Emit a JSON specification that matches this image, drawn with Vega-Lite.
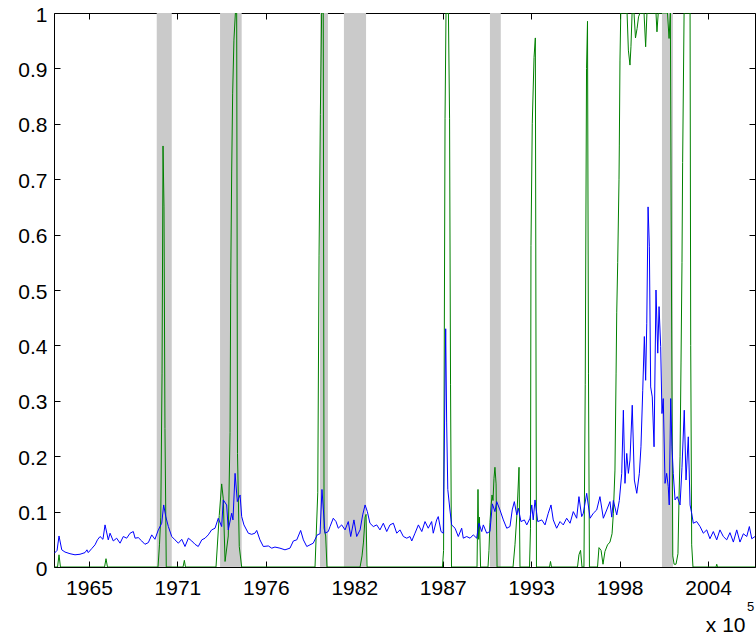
{
"$schema":"https://vega.github.io/schema/vega-lite/v6.json",
"width":701,"height":554,
"autosize":{"type":"none"},
"padding":{"left":54,"top":13,"right":1,"bottom":67},
"background":"white",
"config":{"view":{"stroke":"black","strokeWidth":1},"axis":{"labelFont":"Liberation Sans","titleFont":"Liberation Sans","labelColor":"black","titleColor":"black","domain":false,"tickColor":"black","tickSize":6,"offset":-6,"grid":false,"zindex":1,"labelFontSize":21,"titleFontSize":21,"titleFontWeight":"normal"}},
"datasets":{
"bands":[{"start":1970.01,"end":1970.94},{"start":1973.93,"end":1975.27},{"start":1980.12,"end":1980.61},{"start":1981.60,"end":1982.97},{"start":1990.64,"end":1991.31},{"start":2001.29,"end":2001.97}],
"green":[
{"t":1963.68,"v":0},{"t":1963.87,"v":0},{"t":1963.96,"v":0.022},{"t":1964.05,"v":0},{"t":1966.78,"v":0},{"t":1966.87,"v":0.015},{"t":1966.96,"v":0},
{"t":1970.09,"v":0},{"t":1970.18,"v":0.04},{"t":1970.26,"v":0.09},{"t":1970.34,"v":0.35},{"t":1970.40,"v":0.76},{"t":1970.46,"v":0.65},{"t":1970.52,"v":0.25},{"t":1970.60,"v":0},
{"t":1971.64,"v":0},{"t":1971.72,"v":0.012},{"t":1971.79,"v":0},
{"t":1973.68,"v":0},{"t":1973.88,"v":0.093},{"t":1974.03,"v":0.15},{"t":1974.13,"v":0.123},{"t":1974.24,"v":0.01},{"t":1974.44,"v":0.056},{"t":1974.55,"v":0.243},{"t":1974.59,"v":0.511},{"t":1974.65,"v":0.713},{"t":1974.71,"v":0.854},{"t":1974.79,"v":0.951},{"t":1974.88,"v":1.0},{"t":1974.96,"v":1.0},{"t":1975.01,"v":0.205},{"t":1975.12,"v":0.037},{"t":1975.27,"v":0},
{"t":1979.81,"v":0},{"t":1979.98,"v":0.134},{"t":1980.06,"v":0.563},{"t":1980.14,"v":0.817},{"t":1980.22,"v":1.0},{"t":1980.32,"v":1.0},{"t":1980.37,"v":0.07},{"t":1980.47,"v":0.056},{"t":1980.55,"v":0},
{"t":1982.60,"v":0},{"t":1982.72,"v":0.02},{"t":1982.81,"v":0.045},{"t":1982.91,"v":0.09},{"t":1982.97,"v":0.095},{"t":1983.03,"v":0},
{"t":1987.70,"v":0},{"t":1987.77,"v":0.03},{"t":1987.86,"v":0.81},{"t":1987.92,"v":1.0},{"t":1988.07,"v":1.0},{"t":1988.14,"v":0.81},{"t":1988.20,"v":0.33},{"t":1988.26,"v":0},
{"t":1989.84,"v":0},{"t":1989.90,"v":0.14},{"t":1989.94,"v":0.05},{"t":1989.99,"v":0.09},{"t":1990.06,"v":0},
{"t":1990.52,"v":0},{"t":1990.58,"v":0.03},{"t":1990.64,"v":0.08},{"t":1990.71,"v":0.11},{"t":1990.77,"v":0.13},{"t":1990.83,"v":0.12},{"t":1990.89,"v":0.16},{"t":1990.95,"v":0.18},{"t":1991.02,"v":0.15},{"t":1991.08,"v":0},
{"t":1992.07,"v":0},{"t":1992.19,"v":0.04},{"t":1992.32,"v":0.1},{"t":1992.44,"v":0.18},{"t":1992.50,"v":0},
{"t":1993.09,"v":0},{"t":1993.15,"v":0.07},{"t":1993.18,"v":0.58},{"t":1993.26,"v":0.8},{"t":1993.37,"v":0.92},{"t":1993.45,"v":0.955},{"t":1993.52,"v":0},
{"t":1994.33,"v":0},{"t":1994.39,"v":0.01},{"t":1994.45,"v":0},
{"t":1996.06,"v":0},{"t":1996.15,"v":0.022},{"t":1996.25,"v":0.03},{"t":1996.34,"v":0},{"t":1996.46,"v":0},{"t":1996.54,"v":0.33},{"t":1996.62,"v":0.9},{"t":1996.68,"v":0.985},{"t":1996.74,"v":0.35},{"t":1996.80,"v":0},
{"t":1997.30,"v":0},{"t":1997.39,"v":0.035},{"t":1997.52,"v":0.03},{"t":1997.64,"v":0.005},{"t":1997.76,"v":0.028},{"t":1997.92,"v":0.04},{"t":1998.07,"v":0.045},{"t":1998.20,"v":0.06},{"t":1998.28,"v":0.097},{"t":1998.38,"v":0.175},{"t":1998.45,"v":0.35},{"t":1998.49,"v":0.46},{"t":1998.55,"v":0.55},{"t":1998.63,"v":0.7},{"t":1998.65,"v":0.76},{"t":1998.69,"v":0.915},{"t":1998.74,"v":1.0},
{"t":1999.13,"v":1.0},{"t":1999.21,"v":0.933},{"t":1999.31,"v":0.906},{"t":1999.37,"v":0.939},{"t":1999.44,"v":1.0},{"t":1999.56,"v":1.0},{"t":1999.65,"v":0.955},{"t":1999.75,"v":0.972},{"t":1999.84,"v":0.993},{"t":1999.93,"v":1.0},
{"t":2000.18,"v":1.0},{"t":2000.28,"v":0.939},{"t":2000.36,"v":1.0},{"t":2000.92,"v":1.0},{"t":2000.98,"v":0.966},{"t":2001.06,"v":1.0},
{"t":2001.63,"v":1.0},{"t":2001.73,"v":0.954},{"t":2001.81,"v":1.0},{"t":2001.88,"v":0.5},{"t":2001.96,"v":0.02},{"t":2002.04,"v":0.005},{"t":2002.16,"v":0.005},{"t":2002.28,"v":0.024},{"t":2002.35,"v":0.13},{"t":2002.41,"v":0.2},{"t":2002.47,"v":0.37},{"t":2002.53,"v":0.55},{"t":2002.57,"v":0.73},{"t":2002.66,"v":1.0},
{"t":2003.03,"v":1.0},{"t":2003.07,"v":0.4},{"t":2003.13,"v":0.04},{"t":2003.21,"v":0},
{"t":2004.64,"v":0},{"t":2004.68,"v":0.005},{"t":2004.73,"v":0},{"t":2007.05,"v":0}
],
"blue":[
{"t":1963.68,"v":0.025},{"t":1963.84,"v":0.03},{"t":1963.96,"v":0.056},{"t":1964.13,"v":0.031},{"t":1964.33,"v":0.027},{"t":1964.64,"v":0.024},{"t":1964.95,"v":0.022},{"t":1965.26,"v":0.023},{"t":1965.57,"v":0.026},{"t":1965.69,"v":0.031},
{"t":1965.77,"v":0.026},{"t":1965.98,"v":0.033},{"t":1966.19,"v":0.04},{"t":1966.34,"v":0.049},{"t":1966.50,"v":0.055},{"t":1966.68,"v":0.05},{"t":1966.81,"v":0.076},{"t":1967.01,"v":0.049},{"t":1967.12,"v":0.061},{"t":1967.32,"v":0.047},
{"t":1967.53,"v":0.052},{"t":1967.74,"v":0.043},{"t":1967.94,"v":0.055},{"t":1968.15,"v":0.052},{"t":1968.36,"v":0.061},{"t":1968.56,"v":0.064},{"t":1968.67,"v":0.052},{"t":1968.87,"v":0.053},{"t":1969.08,"v":0.047},{"t":1969.28,"v":0.041},
{"t":1969.49,"v":0.044},{"t":1969.70,"v":0.058},{"t":1969.90,"v":0.05},{"t":1970.11,"v":0.067},{"t":1970.32,"v":0.079},{"t":1970.44,"v":0.112},{"t":1970.57,"v":0.091},{"t":1970.73,"v":0.073},{"t":1970.94,"v":0.055},{"t":1971.14,"v":0.049},
{"t":1971.35,"v":0.043},{"t":1971.56,"v":0.05},{"t":1971.76,"v":0.037},{"t":1971.97,"v":0.052},{"t":1972.18,"v":0.047},{"t":1972.38,"v":0.041},{"t":1972.58,"v":0.037},{"t":1972.80,"v":0.049},{"t":1973.00,"v":0.052},{"t":1973.20,"v":0.058},
{"t":1973.41,"v":0.067},{"t":1973.62,"v":0.07},{"t":1973.82,"v":0.088},{"t":1974.03,"v":0.073},{"t":1974.13,"v":0.121},{"t":1974.34,"v":0.112},{"t":1974.44,"v":0.067},{"t":1974.65,"v":0.097},{"t":1974.73,"v":0.085},{"t":1974.86,"v":0.169},
{"t":1975.00,"v":0.118},{"t":1975.17,"v":0.13},{"t":1975.27,"v":0.091},{"t":1975.41,"v":0.076},{"t":1975.68,"v":0.061},{"t":1975.89,"v":0.059},{"t":1976.09,"v":0.061},{"t":1976.20,"v":0.066},{"t":1976.40,"v":0.049},{"t":1976.61,"v":0.037},
{"t":1976.92,"v":0.038},{"t":1977.13,"v":0.034},{"t":1977.33,"v":0.036},{"t":1977.64,"v":0.034},{"t":1977.95,"v":0.031},{"t":1978.26,"v":0.034},{"t":1978.47,"v":0.047},{"t":1978.68,"v":0.049},{"t":1978.92,"v":0.066},{"t":1979.09,"v":0.049},
{"t":1979.30,"v":0.037},{"t":1979.50,"v":0.04},{"t":1979.70,"v":0.043},{"t":1979.95,"v":0.058},{"t":1980.12,"v":0.06},{"t":1980.24,"v":0.14},{"t":1980.43,"v":0.061},{"t":1980.63,"v":0.064},{"t":1980.74,"v":0.073},{"t":1980.94,"v":0.088},
{"t":1981.11,"v":0.082},{"t":1981.25,"v":0.07},{"t":1981.46,"v":0.076},{"t":1981.67,"v":0.067},{"t":1981.87,"v":0.082},{"t":1982.02,"v":0.055},{"t":1982.22,"v":0.085},{"t":1982.39,"v":0.055},{"t":1982.60,"v":0.067},{"t":1982.76,"v":0.094},
{"t":1982.91,"v":0.112},{"t":1983.05,"v":0.1},{"t":1983.21,"v":0.079},{"t":1983.42,"v":0.073},{"t":1983.63,"v":0.076},{"t":1983.83,"v":0.067},{"t":1984.04,"v":0.079},{"t":1984.25,"v":0.064},{"t":1984.45,"v":0.076},{"t":1984.66,"v":0.079},
{"t":1984.87,"v":0.061},{"t":1985.07,"v":0.067},{"t":1985.28,"v":0.055},{"t":1985.49,"v":0.052},{"t":1985.69,"v":0.055},{"t":1985.80,"v":0.047},{"t":1986.00,"v":0.061},{"t":1986.21,"v":0.076},{"t":1986.42,"v":0.064},{"t":1986.62,"v":0.082},
{"t":1986.82,"v":0.07},{"t":1987.03,"v":0.082},{"t":1987.13,"v":0.061},{"t":1987.34,"v":0.085},{"t":1987.44,"v":0.091},{"t":1987.61,"v":0.064},{"t":1987.75,"v":0.061},{"t":1987.90,"v":0.43},{"t":1987.96,"v":0.26},{"t":1988.03,"v":0.14},
{"t":1988.17,"v":0.101},{"t":1988.27,"v":0.076},{"t":1988.48,"v":0.07},{"t":1988.68,"v":0.055},{"t":1988.89,"v":0.07},{"t":1988.99,"v":0.052},{"t":1989.20,"v":0.055},{"t":1989.41,"v":0.052},{"t":1989.61,"v":0.058},{"t":1989.82,"v":0.052},
{"t":1989.96,"v":0.079},{"t":1990.13,"v":0.064},{"t":1990.23,"v":0.076},{"t":1990.44,"v":0.061},{"t":1990.64,"v":0.064},{"t":1990.79,"v":0.114},{"t":1990.95,"v":0.1},{"t":1991.06,"v":0.118},{"t":1991.26,"v":0.103},{"t":1991.47,"v":0.085},
{"t":1991.68,"v":0.07},{"t":1991.88,"v":0.073},{"t":1992.02,"v":0.103},{"t":1992.15,"v":0.118},{"t":1992.30,"v":0.094},{"t":1992.40,"v":0.106},{"t":1992.56,"v":0.082},{"t":1992.77,"v":0.085},{"t":1992.92,"v":0.076},{"t":1993.12,"v":0.088},
{"t":1993.23,"v":0.112},{"t":1993.32,"v":0.085},{"t":1993.43,"v":0.121},{"t":1993.60,"v":0.082},{"t":1993.85,"v":0.085},{"t":1994.05,"v":0.076},{"t":1994.25,"v":0.097},{"t":1994.42,"v":0.112},{"t":1994.56,"v":0.085},{"t":1994.77,"v":0.07},
{"t":1994.98,"v":0.082},{"t":1995.18,"v":0.076},{"t":1995.39,"v":0.088},{"t":1995.60,"v":0.079},{"t":1995.80,"v":0.1},{"t":1996.01,"v":0.088},{"t":1996.15,"v":0.127},{"t":1996.32,"v":0.091},{"t":1996.42,"v":0.097},{"t":1996.63,"v":0.133},
{"t":1996.84,"v":0.088},{"t":1997.04,"v":0.097},{"t":1997.25,"v":0.103},{"t":1997.45,"v":0.127},{"t":1997.66,"v":0.088},{"t":1997.87,"v":0.103},{"t":1998.07,"v":0.118},{"t":1998.18,"v":0.09},{"t":1998.28,"v":0.12},{"t":1998.49,"v":0.094},
{"t":1998.65,"v":0.12},{"t":1998.80,"v":0.169},{"t":1998.90,"v":0.283},{"t":1999.00,"v":0.151},{"t":1999.11,"v":0.205},{"t":1999.21,"v":0.169},{"t":1999.31,"v":0.193},{"t":1999.45,"v":0.292},{"t":1999.58,"v":0.157},{"t":1999.73,"v":0.133},
{"t":1999.89,"v":0.169},{"t":1999.99,"v":0.217},{"t":2000.10,"v":0.319},{"t":2000.20,"v":0.416},{"t":2000.28,"v":0.337},{"t":2000.35,"v":0.44},{"t":2000.43,"v":0.65},{"t":2000.51,"v":0.578},{"t":2000.59,"v":0.325},{"t":2000.69,"v":0.307},
{"t":2000.80,"v":0.217},{"t":2000.92,"v":0.5},{"t":2001.03,"v":0.386},{"t":2001.11,"v":0.47},{"t":2001.21,"v":0.398},{"t":2001.29,"v":0.277},{"t":2001.37,"v":0.304},{"t":2001.48,"v":0.151},{"t":2001.58,"v":0.169},{"t":2001.68,"v":0.145},
{"t":2001.74,"v":0.112},{"t":2001.83,"v":0.304},{"t":2001.91,"v":0.217},{"t":2001.99,"v":0.169},{"t":2002.10,"v":0.121},{"t":2002.24,"v":0.127},{"t":2002.41,"v":0.112},{"t":2002.53,"v":0.18},{"t":2002.67,"v":0.283},{"t":2002.78,"v":0.157},
{"t":2002.92,"v":0.235},{"t":2003.03,"v":0.112},{"t":2003.13,"v":0.097},{"t":2003.23,"v":0.079},{"t":2003.44,"v":0.082},{"t":2003.65,"v":0.073},{"t":2003.85,"v":0.061},{"t":2004.06,"v":0.067},{"t":2004.26,"v":0.051},{"t":2004.47,"v":0.064},
{"t":2004.68,"v":0.049},{"t":2004.88,"v":0.067},{"t":2005.09,"v":0.055},{"t":2005.30,"v":0.049},{"t":2005.50,"v":0.062},{"t":2005.71,"v":0.045},{"t":2005.92,"v":0.067},{"t":2006.12,"v":0.045},{"t":2006.33,"v":0.06},{"t":2006.54,"v":0.055},
{"t":2006.70,"v":0.073},{"t":2006.85,"v":0.051},{"t":2007.05,"v":0.055}
]
},
"layer":[
{"data":{"name":"bands"},"mark":{"type":"rect","color":"#cacaca"},
 "encoding":{"x":{"field":"start","type":"quantitative","scale":{"domain":[1963.65,2007.05],"nice":false,"zero":false},
   "axis":{"orient":"top","values":[1965.814,1971.29,1976.765,1982.241,1987.717,1993.193,1998.669,2004.144],"labels":false,"title":null}},
  "x2":{"field":"end"}}},
{"data":{"name":"green"},"mark":{"type":"line","color":"#008000","strokeWidth":1,"clip":true},
 "encoding":{"x":{"field":"t","type":"quantitative","axis":{"orient":"bottom","values":[1965.814,1971.29,1976.765,1982.241,1987.717,1993.193,1998.669,2004.144],"labelExpr":"floor(datum.value)","labelPadding":10,"title":"x 10","titleAnchor":"end","titleAlign":"right","titleBaseline":"alphabetic","titleX":691,"titleY":70}},
  "y":{"field":"v","type":"quantitative","scale":{"domain":[0,1],"nice":false},"axis":{"orient":"left","values":[0,0.1,0.2,0.3,0.4,0.5,0.6,0.7,0.8,0.9,1],"format":"~g","labelPadding":7,"labelOffset":2,"title":null}}}},
{"data":{"name":"blue"},"mark":{"type":"line","color":"#0000ff","strokeWidth":1,"clip":true},
 "encoding":{"x":{"field":"t","type":"quantitative","axis":null},
  "y":{"field":"v","type":"quantitative","axis":{"orient":"right","values":[0,0.1,0.2,0.3,0.4,0.5,0.6,0.7,0.8,0.9,1],"labels":false,"title":"5","titleAngle":0,"titleFontSize":13,"titleAlign":"center","titleBaseline":"alphabetic","titleX":1,"titleY":597}}}}
],
"resolve":{"axis":{"x":"independent","y":"independent"}}
}
